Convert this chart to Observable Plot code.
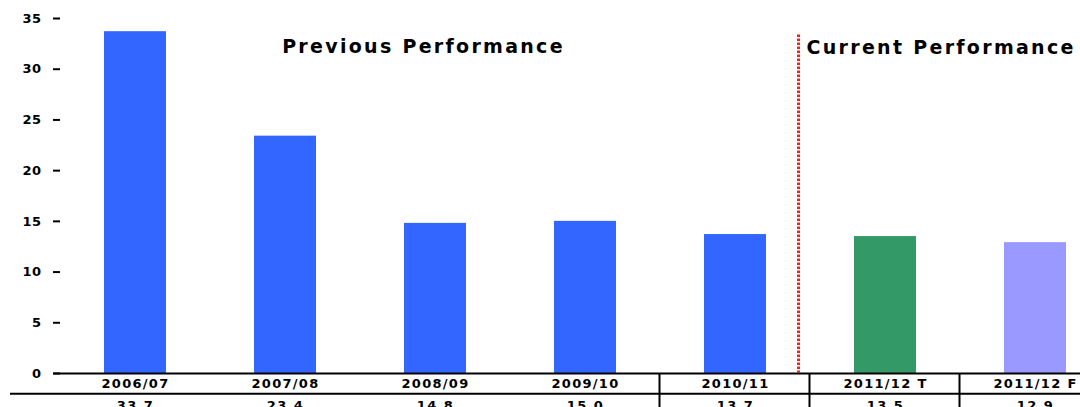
<!DOCTYPE html>
<html>
<head>
<meta charset="utf-8">
<script src="https://cdn.jsdelivr.net/npm/d3@7"></script>
<script src="https://cdn.jsdelivr.net/npm/@observablehq/plot@0.6"></script>
<style>
  html, body { margin: 0; padding: 0; background: #fff; overflow: hidden; }
  #chart svg { display: block; }
</style>
</head>
<body>
<div id="chart"></div>
<script>
const categories = ["2006/07", "2007/08", "2008/09", "2009/10", "2010/11", "2011/12 T", "2011/12 F"];
const values = [33.7, 23.4, 14.8, 15.0, 13.7, 13.5, 12.9];
const tableLabels = ["33.7", "23.4", "14.8", "15.0", "13.7", "13.5", "12.9"];
const barColors = ["#3366ff", "#3366ff", "#3366ff", "#3366ff", "#3366ff", "#339966", "#9999ff"];
const rowLabel = "LIB 1";
const yTicks = [0, 5, 10, 15, 20, 25, 30, 35];
const separatorAfter = ["2009/10", "2010/11", "2011/12 T"];
const previousTitle = {x: "2008/09", y: 32.2, text: "Previous Performance"};
const currentTitle = {x: "2010/11", y: 32.1, text: "Current Performance"};
const divider = {x: "2010/11", y1: 0, y2: 33.4};

const data = categories.map((c, i) => ({cat: c, value: values[i], color: barColors[i], label: tableLabels[i]}));

const font = "DejaVu Sans, Verdana, sans-serif";

const plot = Plot.plot({
  width: 1080,
  height: 407,
  marginLeft: 60,
  marginRight: 0,
  marginTop: 18,
  marginBottom: 34,
  style: {fontFamily: font, fontSize: "13px", color: "#000", background: "#fff", overflow: "hidden"},
  x: {domain: categories, range: [60, 1110], paddingInner: 0.587, paddingOuter: 0.2935, axis: null},
  y: {domain: [0, 35], range: [373, 18], axis: null},
  marks: [
    Plot.barY(data, {x: "cat", y: "value", fill: "color"}),
    Plot.axisY(yTicks, {tickSize: 7, tickPadding: 12, fontSize: 13, fontWeight: "bold", strokeWidth: 2}),
    Plot.ruleY([0], {stroke: "#000", strokeWidth: 2, insetLeft: -7}),
    Plot.ruleY([-2], {stroke: "#000", strokeWidth: 2, insetLeft: -50}),
    Plot.ruleX(separatorAfter, {x: d => d, y1: 0, y2: -3.5, dx: 74, stroke: "#000", strokeWidth: 2}),
    Plot.text(data, {x: "cat", y: 0, text: "cat", dy: 10, fontSize: 13, fontWeight: "bold"}),
    Plot.text(data, {x: "cat", y: -2, text: "label", dy: 12, fontSize: 13, fontWeight: "bold"}),
    Plot.text([rowLabel], {x: categories[0], y: -2, text: d => d, dx: -125, dy: 12, textAnchor: "start", fontSize: 13, fontWeight: "bold"}),
    Plot.ruleX([divider], {x: "x", y1: "y1", y2: "y2", dx: 63, stroke: "#ff1a1a", strokeWidth: 3, strokeDasharray: "2.5,1.5"}),
    Plot.text([previousTitle], {x: "x", y: "y", text: "text", textAnchor: "middle", dx: -12, fontSize: 19, fontWeight: "bold"}),
    Plot.text([currentTitle], {x: "x", y: "y", text: "text", textAnchor: "start", dx: 71, fontSize: 19, fontWeight: "bold"})
  ]
});

const titleTexts = [previousTitle.text, currentTitle.text];
const tableTexts = [...categories, ...tableLabels, rowLabel];
d3.select(plot).selectAll("text").each(function () {
  const t = this.textContent;
  if (titleTexts.includes(t)) this.setAttribute("letter-spacing", "2.3px");
  else if (tableTexts.includes(t)) this.setAttribute("letter-spacing", "1.3px");
  else this.setAttribute("letter-spacing", "0.5px");
});
document.getElementById("chart").appendChild(plot);
</script>
</body>
</html>
